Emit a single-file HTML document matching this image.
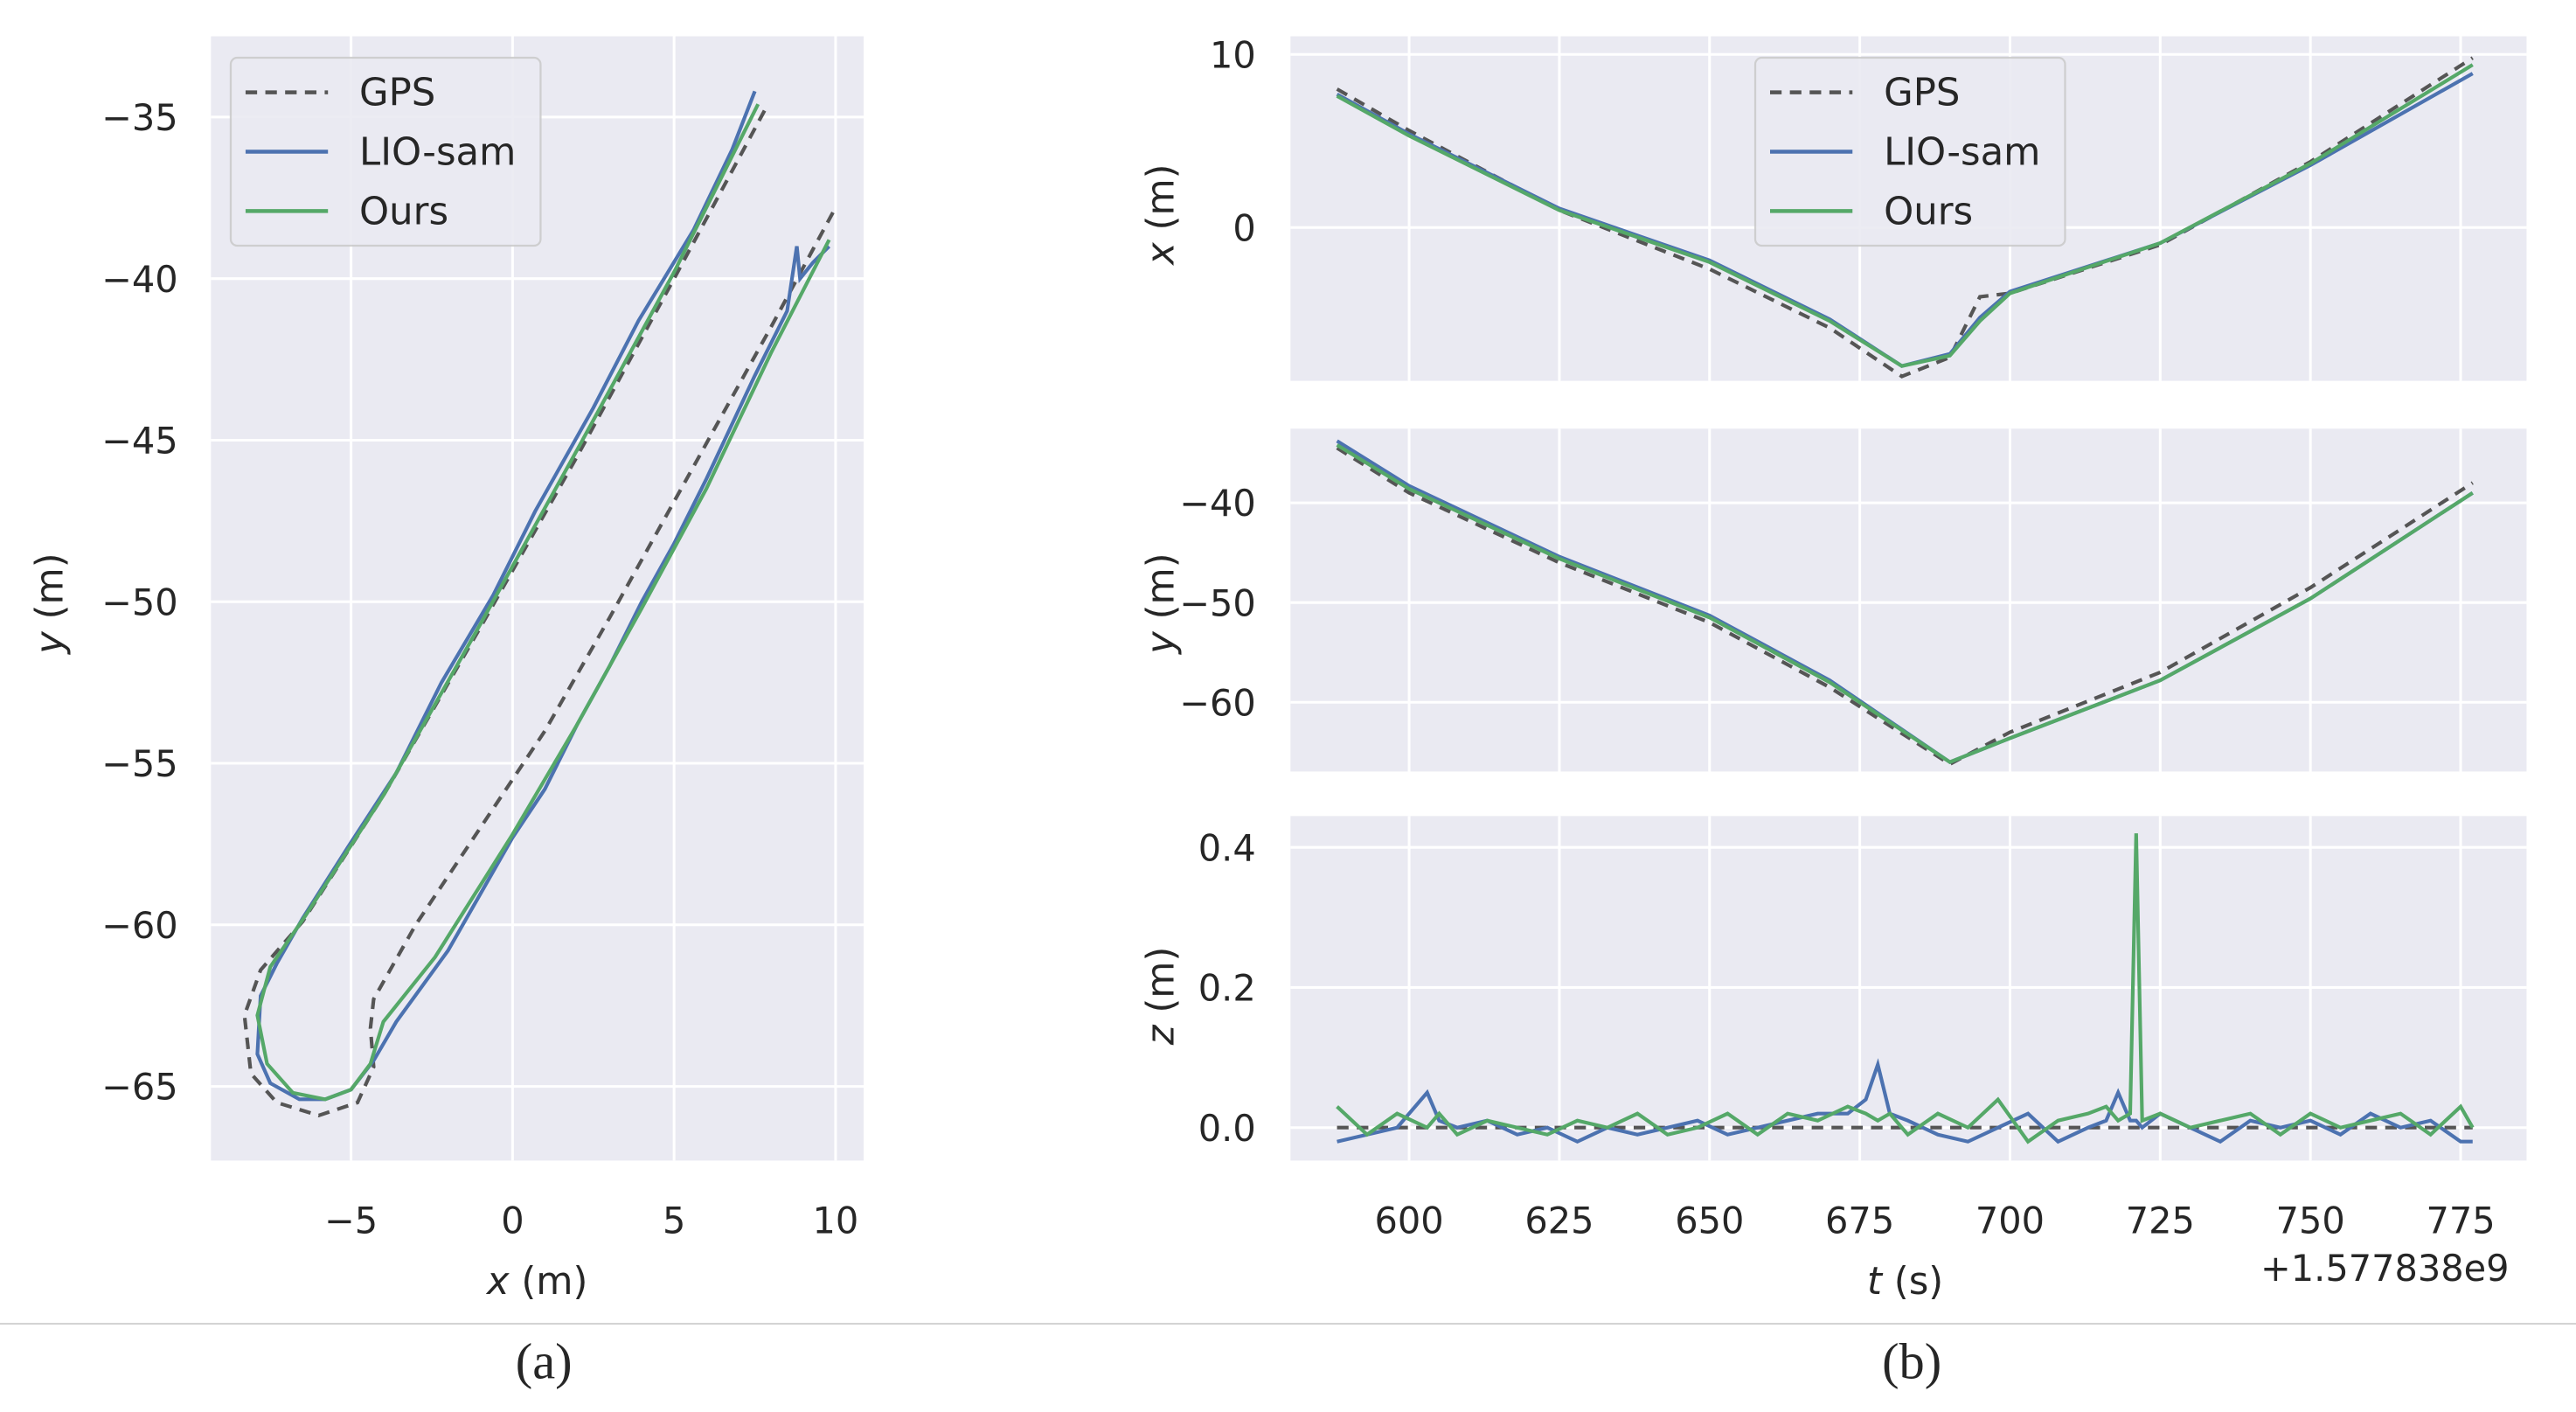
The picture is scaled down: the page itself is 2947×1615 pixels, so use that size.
<!DOCTYPE html>
<html><head><meta charset="utf-8"><style>
html,body{margin:0;padding:0;background:#fff}
svg{display:block}
text{font-family:"DejaVu Sans","Liberation Sans",sans-serif;fill:#262626}
</style></head><body>
<svg id="fig" xmlns="http://www.w3.org/2000/svg" width="2947" height="1615" viewBox="0 0 1563 856.5">
<rect width="1563" height="856.5" fill="#fff"/>
<line x1="0" y1="803" x2="1563" y2="803" stroke="#d0d0d0" stroke-width="1"/>
<text x="330" y="836" font-size="31" text-anchor="middle" style="font-family:'Liberation Serif',serif">(a)</text>
<text x="1160" y="836" font-size="31" text-anchor="middle" style="font-family:'Liberation Serif',serif">(b)</text>
</svg>
<script>
// ---- Panel (a) trajectory data ----
const gpsX=[7.8,5,2,-1,-4,-6.5,-7.8,-8.3,-8.1,-7.3,-6,-4.8,-4.3,-4.4,-4.3,-3,-1,1,3,5.5,8,10];
const gpsY=[-34.8,-40,-45.5,-50.8,-56,-59.9,-61.4,-62.8,-64.6,-65.5,-65.9,-65.5,-64.4,-63.2,-62.3,-60,-57,-54,-50.5,-46,-41.5,-37.8];
const lioX=[7.5,6.8,5.6,3.9,2.5,0.7,-0.6,-2.2,-3.6,-5.1,-6.5,-7.3,-7.8,-7.9,-7.5,-6.6,-5.8,-5,-4.3,-3.6,-2,0,1,2,3,4,5,6,7.5,8.5,8.8,8.9,9.3,9.8];
const lioY=[-34.2,-36,-38.5,-41.3,-44,-47.2,-49.8,-52.5,-55.3,-57.6,-59.8,-61.2,-62.2,-64,-64.9,-65.4,-65.4,-65.1,-64.2,-63,-60.8,-57.3,-55.8,-53.8,-52,-50,-48.2,-46.2,-43,-41,-39,-40,-39.5,-39];
const oursX=[7.6,5,2,-1,-4,-6.4,-7.5,-7.9,-7.6,-6.8,-5.8,-5,-4.4,-4,-2.4,0,2,4,6,8,9.8];
const oursY=[-34.6,-39.8,-45.3,-50.7,-56,-59.7,-61.3,-62.8,-64.3,-65.2,-65.4,-65.1,-64.3,-63,-61,-57.2,-53.8,-50.2,-46.5,-42.3,-38.8];
const axAXTicks=[-5,0,5,10];
const axAYTicks=[-35,-40,-45,-50,-55,-60,-65];
// ---- Panel (b) time series data ----
const tX=[588,600,625,650,670,682,690,695,700,725,750,777];
const gpsXt=[8,5.6,1,-2.4,-5.8,-8.6,-7.5,-4,-3.8,-1,3.8,9.8];
const lioXt=[7.7,5.4,1.1,-1.9,-5.3,-8.0,-7.3,-5.2,-3.7,-0.9,3.6,8.9];
const oursXt=[7.6,5.3,1,-2,-5.4,-8.0,-7.4,-5.4,-3.8,-0.9,3.7,9.4];
const tY=[588,600,625,650,670,690,700,725,750,777];
const gpsYt=[-34.5,-39,-46,-52,-58.5,-66.2,-63,-57,-48.5,-38];
const lioYt=[-33.8,-38.3,-45.4,-51.3,-57.8,-66,-63.6,-57.8,-49.6,-39];
const oursYt=[-34.2,-38.6,-45.6,-51.5,-58,-66,-63.6,-57.8,-49.6,-39];
const tZ=[588,593,598,603,605,608,613,618,623,628,633,638,643,648,653,658,663,668,673,676,678,680,683,688,693,698,703,708,713,716,718,720,721,722,725,730,735,740,745,750,755,760,765,770,775,777];
const gpsZ=[0,0,0,0,0,0,0,0,0,0,0,0,0,0,0,0,0,0,0,0,0,0,0,0,0,0,0,0,0,0,0,0,0,0,0,0,0,0,0,0,0,0,0,0,0,0];
const lioZ=[-0.02,-0.01,0.0,0.05,0.01,0.0,0.01,-0.01,0.0,-0.02,0.0,-0.01,0.0,0.01,-0.01,0.0,0.01,0.02,0.02,0.04,0.09,0.02,0.01,-0.01,-0.02,0.0,0.02,-0.02,0.0,0.01,0.05,0.01,0.01,0.0,0.02,0.0,-0.02,0.01,0.0,0.01,-0.01,0.02,0.0,0.01,-0.02,-0.02];
const oursZ=[0.03,-0.01,0.02,0.0,0.02,-0.01,0.01,0.0,-0.01,0.01,0.0,0.02,-0.01,0.0,0.02,-0.01,0.02,0.01,0.03,0.02,0.01,0.02,-0.01,0.02,0.0,0.04,-0.02,0.01,0.02,0.03,0.01,0.02,0.42,0.01,0.02,0.0,0.01,0.02,-0.01,0.02,0.0,0.01,0.02,-0.01,0.03,0.0];
const tTicks=[600,625,650,675,700,725,750,775];
const xtTicks=[10,0];
const ytTicks=[-40,-50,-60];
const ztTicks=[0.4,0.2,0.0];

const NS="http://www.w3.org/2000/svg";
const svg=document.getElementById('fig');
const BG="#eaeaf2",GPSC="#555555",LIOC="#4c72b0",OURC="#55a868";
function el(tag,attrs,parent){const e=document.createElementNS(NS,tag);for(const k in attrs)e.setAttribute(k,attrs[k]);(parent||svg).appendChild(e);return e;}
function lin(d0,d1,r0,r1){return v=>r0+(v-d0)*(r1-r0)/(d1-d0);}
function txt(x,y,s,anchor,size,name,rot){const t=el('text',{x:x,y:y,'font-size':size||22,'text-anchor':anchor||'middle'});t.textContent=s;


if(rot)t.setAttribute('transform','rotate(-90 '+x+' '+y+')');return t;}
function title(x,y,v,rest,name,rot){const t=el('text',{x:x,y:y,'font-size':23,'text-anchor':'middle'});
const a=el('tspan',{'font-style':'italic'},t);a.textContent=v;
const b=el('tspan',{},t);b.textContent=rest;


if(rot)t.setAttribute('transform','rotate(-90 '+x+' '+y+')');}
function axesBox(x0,y0,x1,y1,name){const r=el('rect',{x:x0,y:y0,width:x1-x0,height:y1-y0,fill:BG});

}
function grid(x0,y0,x1,y1,isV,p,name){const l=el('line',isV?{x1:p,x2:p,y1:y0,y2:y1}:{x1:x0,x2:x1,y1:p,y2:p});l.setAttribute('stroke','#fff');l.setAttribute('stroke-width','1.6');

}
function series(xs,ys,sx,sy,color,dash,name){const d=xs.map((v,i)=>(i?'L':'M')+sx(v).toFixed(2)+' '+sy(ys[i]).toFixed(2)).join(' ');
const p=el('path',{d:d,fill:'none',stroke:color,'stroke-width':2.2});if(dash)p.setAttribute('stroke-dasharray',dash);

}
function legend(x,y,name){const g=el('g',{});


el('rect',{x:x,y:y,width:188,height:114,rx:4,fill:BG,stroke:'#cccccc','stroke-width':1.2,opacity:0.9},g);
const items=[['GPS',GPSC,'7,5'],['LIO-sam',LIOC,''],['Ours',OURC,'']];
items.forEach((it,i)=>{const yy=y+21+i*36;const l=el('line',{x1:x+9,x2:x+59,y1:yy,y2:yy,stroke:it[1],'stroke-width':2.4},g);if(it[2])l.setAttribute('stroke-dasharray',it[2]);
const t=el('text',{x:x+78,y:yy+8,'font-size':23},g);t.textContent=it[0];});}

// ---- Panel (a) ----
{const X0=128,X1=524,Y0=22,Y1=704;axesBox(X0,Y0,X1,Y1,'trajectory-axes');
const sx=lin(0,10,311,507),sy=lin(-35,-65,71,659);
axAXTicks.forEach(v=>{grid(X0,Y0,X1,Y1,true,sx(v),'x-gridline');txt(sx(v),748,(v<0?'\u2212':'')+Math.abs(v),'middle',22,'x-tick-label');});
axAYTicks.forEach(v=>{grid(X0,Y0,X1,Y1,false,sy(v),'y-gridline');txt(108,sy(v)+8,'\u2212'+Math.abs(v),'end',22,'y-tick-label');});
series(gpsX,gpsY,sx,sy,GPSC,'7,5','gps-trajectory');
series(lioX,lioY,sx,sy,LIOC,'','lio-sam-trajectory');
series(oursX,oursY,sx,sy,OURC,'','ours-trajectory');
legend(140,35,'trajectory-legend');
title(326,785,'x',' (m)','x-axis-title');
title(38,366,'y',' (m)','y-axis-title',true);}

// ---- Panel (b) ----
const tx=lin(600,775,855,1493);
function tpanel(y0,y1,ticks,sy,fmt,xs,series3,v,ylabY,name){axesBox(783,y0,1533,y1,name);
tTicks.forEach(t=>grid(783,y0,1533,y1,true,tx(t),'t-gridline'));
ticks.forEach(t=>{grid(783,y0,1533,y1,false,sy(t),'value-gridline');txt(762,sy(t)+8,fmt(t),'end',22,'value-tick-label');});
series(xs[0],series3[0],tx,sy,GPSC,'7,5',name+'-gps');
series(xs[1],series3[1],tx,sy,LIOC,'',name+'-lio-sam');
series(xs[2],series3[2],tx,sy,OURC,'',name+'-ours');
title(712,ylabY,v,' (m)',name+'-y-title',true);}
tpanel(22,231,xtTicks,lin(10,0,33,138),v=>String(v),[tX,tX,tX],[gpsXt,lioXt,oursXt],'x',130,'x-time-axes');
tpanel(260,468,ytTicks,lin(-40,-60,305,426),v=>'\u2212'+Math.abs(v),[tY,tY,tY],[gpsYt,lioYt,oursYt],'y',366,'y-time-axes');
tpanel(495,704,ztTicks,lin(0.4,0,514,684),v=>v.toFixed(1),[tZ,tZ,tZ],[gpsZ,lioZ,oursZ],'z',604,'z-time-axes');
legend(1065,35,'time-legend');
tTicks.forEach(v=>txt(tx(v),748,String(v),'middle',22,'t-tick-label'));
txt(1447,777,'+1.577838e9','middle',22,'t-offset-label');
title(1156,785,'t',' (s)','t-axis-title');
</script>
</body></html>
